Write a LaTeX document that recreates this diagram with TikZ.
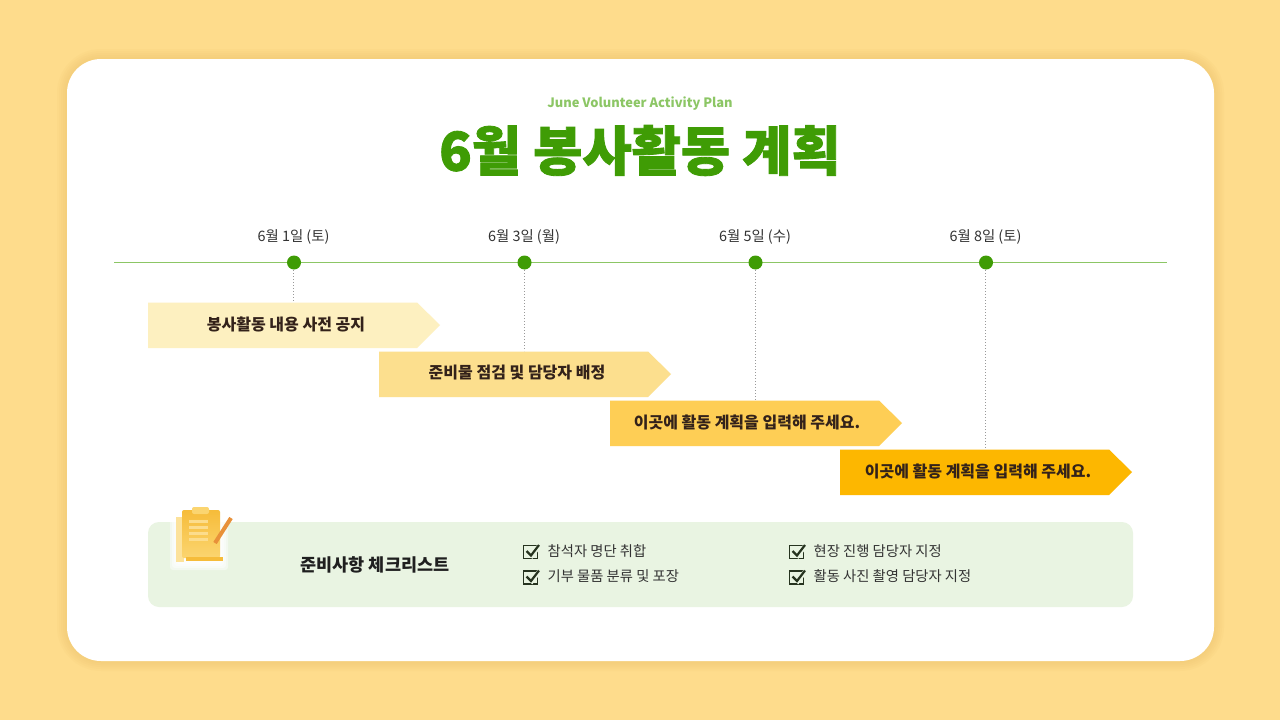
\documentclass[tikz,border=0pt]{standalone}
\usepackage{fontspec}
\setmainfont{Noto Sans CJK KR}
\newfontfamily\heavy[BoldFeatures={FakeBold=1.6}]{Noto Sans CJK KR}
\usetikzlibrary{calc}
\definecolor{bgy}{HTML}{FEDC8C}
\definecolor{shd}{HTML}{E8B860}
\definecolor{grn}{HTML}{3F9C05}
\definecolor{lgrn}{HTML}{8CC665}
\definecolor{txt}{HTML}{333333}
\definecolor{brn}{HTML}{33221A}
\definecolor{a1}{HTML}{FDF0C0}
\definecolor{a2}{HTML}{FCDF8E}
\definecolor{a3}{HTML}{FECE55}
\definecolor{a4}{HTML}{FDB700}
\definecolor{pan}{HTML}{E9F4E2}
\definecolor{ink}{HTML}{26331F}
\definecolor{clipa}{HTML}{F6BC3A}
\definecolor{clipb}{HTML}{FBD570}
\definecolor{pen}{HTML}{E8913A}
\begin{document}
\begin{tikzpicture}[x=1pt,y=-1pt,
 lab/.style={font=\fontsize{14.4}{16}\selectfont,text=txt,inner sep=0},
 arr/.style={font=\fontsize{16}{18}\selectfont\bfseries,text=brn,inner sep=0},
 dot/.style={circle,fill=grn,minimum size=14pt,inner sep=0},
 drop/.style={gray!80,line width=.7pt,dash pattern=on .8pt off 2.2pt},
 chk/.style={font=\fontsize{14.3}{16}\selectfont,text=txt,inner sep=0,anchor=west}]
\useasboundingbox (0,0) rectangle (1280,720);
\fill[bgy] (0,0) rectangle (1280,720);
\foreach \s in {10,8,6,4,2}{
 \fill[shd,opacity=.07,rounded corners=34pt+\s*1pt] (67-\s,59-\s) rectangle (1214+\s,661+\s);
}
\fill[rounded corners=34pt,white] (67,59) rectangle (1214,661);
\node[inner sep=0,text=lgrn,font=\fontsize{12.9}{14}\selectfont\bfseries] (sub) at (640,104) {June Volunteer Activity Plan};
\node[inner sep=0,text=grn,font=\fontsize{53.5}{60}\selectfont\heavy\bfseries] (title) at (640,150.5) {6월 봉사활동 계획};
\draw[lgrn,line width=.8pt] (114,262.5) -- (1167,262.5);
\foreach \n/\x/\t in {a/294/6월 1일 (토),b/524.5/6월 3일 (월),c/755.5/6월 5일 (수),d/986/6월 8일 (토)}{
 \node[dot] (d\n) at (\x,262.5) {};
 \node[lab] at (\x-.5,237) {\t};
}
\fill[a1] (148,302.5) -- (417,302.5) -- (440,325) -- (417,348) -- (148,348) -- cycle;
\fill[a2] (379,351.5) -- (648,351.5) -- (671,374) -- (648,397) -- (379,397) -- cycle;
\fill[a3] (610,400.5) -- (879,400.5) -- (902,423) -- (879,446) -- (610,446) -- cycle;
\fill[a4] (840,449.5) -- (1109,449.5) -- (1132,472) -- (1109,495) -- (840,495) -- cycle;
\coordinate (ea) at (293.5,302); \coordinate (eb) at (524.5,351); \coordinate (ec) at (755.5,400); \coordinate (ed) at (985.5,449);
\draw[drop] (ea |- 0,270) -- (ea); \draw[drop] (eb |- 0,270) -- (eb); \draw[drop] (ec |- 0,270) -- (ec); \draw[drop] (ed |- 0,270) -- (ed);
\node[arr] at (286,324) {봉사활동 내용 사전 공지};
\node[arr] at (517,373) {준비물 점검 및 담당자 배정};
\node[arr] at (747,422) {이곳에 활동 계획을 입력해 주세요.};
\node[arr] at (978,471) {이곳에 활동 계획을 입력해 주세요.};
\fill[pan,rounded corners=11pt] (148,522) rectangle (1133,607);
\node[inner sep=0,text=black!88,font=\fontsize{17.5}{20}\selectfont\bfseries] at (375,564.5) {준비사항 체크리스트};
\foreach \x/\y/\t in {531/552/참석자 명단 취합,531/577.5/기부 물품 분류 및 포장,797/552/현장 진행 담당자 지정,797/577.5/활동 사진 촬영 담당자 지정}{
 \draw[ink,line width=1.4pt] (\x-7.5,\y-6.5) rectangle (\x+6.5,\y+6.5);
 \draw[pan,line width=4.5pt] (\x-3,\y) -- (\x+1,\y+3.5) -- (\x+8.5,\y-6.5);
 \draw[ink,line width=2.2pt] (\x-4.5,\y-1) -- (\x,\y+3.5) -- (\x+8,\y-7);
 \node[chk] at (\x+16.5,\y-1) {\t};
}
% icon
\foreach \s in {6,4,2,0}{\fill[white,opacity=.45,rounded corners=3pt] (176-\s,517-\s) rectangle (222+\s,564+\s);}
\fill[clipb!70!white] (176,517) rectangle (184,562);
\shade[top color=clipa,bottom color=clipb,rounded corners=2pt] (182,510) rectangle (220,558);
\fill[clipa] (186,557) rectangle (223,560.5);
\fill[clipb,rounded corners=2pt] (192,507) rectangle (209,514);
\foreach \y in {520,526,532,538}{\fill[clipb!80!white] (189,\y) rectangle (208,\y+3);}
\draw[pen,line width=4pt] (215,543) -- (231,518);
\end{tikzpicture}
\end{document}
